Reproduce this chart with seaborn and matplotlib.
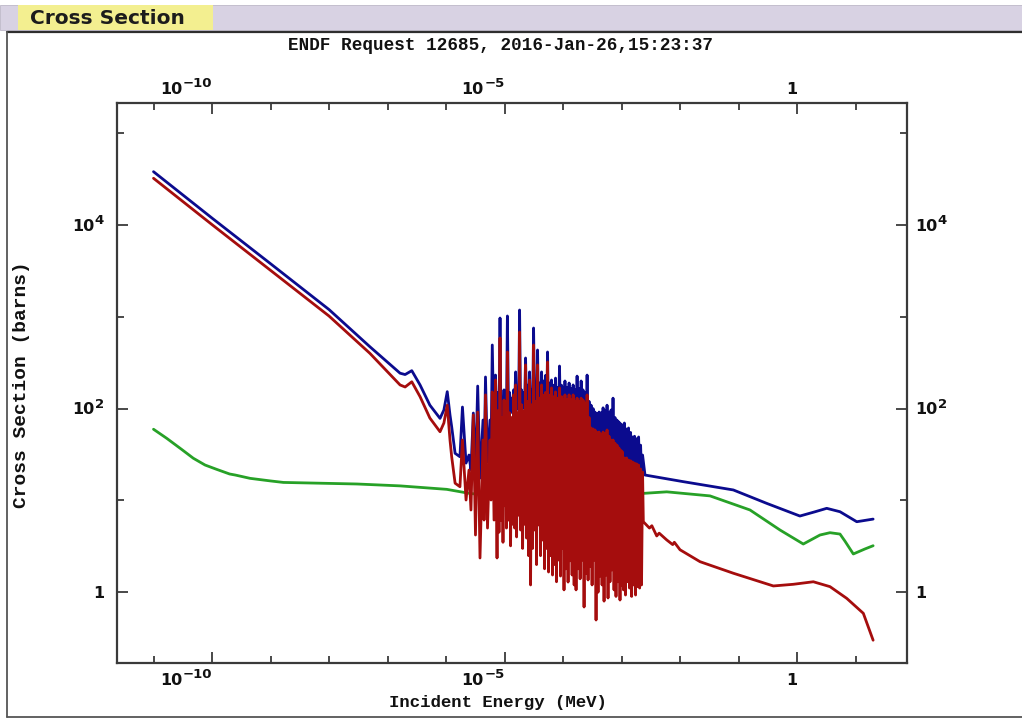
import matplotlib
matplotlib.use("Agg")
import matplotlib.pyplot as plt
import seaborn as sns
from matplotlib.patches import Rectangle
from matplotlib.lines import Line2D
from matplotlib.ticker import FixedLocator, NullFormatter
from matplotlib.transforms import offset_copy

# ---------------------------------------------------------------- data (MeV, barns)
# total and capture cross sections below the resolved resonance region
total_E_lo = [1e-11, 1e-10, 1e-9, 1e-8, 5.0e-8, 1.64e-7, 2.0e-7, 2.6e-7, 3.6e-7,
              5.3e-7, 7.9e-7, 9.2e-7, 1.05e-6, 1.17e-6, 1.25e-6, 1.43e-6, 1.73e-6]
total_lo = [3.81e4, 1.19e4, 3.79e3, 1.20e3, 472, 243, 235, 259, 181,
            109, 78.3, 96.6, 153, 85.2, 63.5, 32.6, 29.9]
capture_lo = [3.23e4, 1.01e4, 3.21e3, 1.02e3, 400, 181, 172, 196, 135,
              78.9, 56.0, 69.7, 109, 45.5, 29.9, 15.4, 14.1]

# resolved resonance region (alternating peaks and valleys)
forest_E = [
    1.91e-6, 2.20e-6, 2.47e-6, 2.67e-6, 2.93e-6, 3.19e-6, 3.48e-6, 3.81e-6, 4.29e-6, 4.47e-6,
    4.73e-6, 5.12e-6, 5.65e-6, 5.88e-6, 6.18e-6, 6.62e-6, 7.02e-6,
    7.45e-6, 7.74e-6, 8.05e-6, 8.38e-6, 8.71e-6, 9.06e-6, 9.42e-6, 9.80e-6,
    1.00e-5, 1.04e-5, 1.08e-5, 1.12e-5, 1.17e-5, 1.22e-5, 1.27e-5, 1.32e-5, 1.37e-5, 1.43e-5,
    1.49e-5, 1.55e-5, 1.61e-5, 1.67e-5, 1.74e-5, 1.81e-5, 1.88e-5, 1.96e-5, 2.04e-5, 2.12e-5,
    2.20e-5, 2.29e-5, 2.38e-5, 2.48e-5, 2.58e-5, 2.68e-5, 2.79e-5, 2.90e-5, 3.02e-5, 3.14e-5,
    3.27e-5, 3.40e-5, 3.53e-5, 3.67e-5, 3.82e-5, 3.97e-5, 4.13e-5, 4.30e-5, 4.47e-5, 4.65e-5,
    4.84e-5, 5.03e-5, 5.23e-5, 5.44e-5, 5.66e-5, 5.88e-5, 6.12e-5, 6.36e-5, 6.62e-5, 6.88e-5,
    7.16e-5, 7.45e-5, 7.74e-5, 8.05e-5, 8.38e-5, 8.71e-5, 9.06e-5, 9.42e-5, 9.80e-5,
    1.00e-4, 1.04e-4, 1.08e-4, 1.12e-4, 1.17e-4, 1.22e-4, 1.27e-4, 1.32e-4, 1.37e-4, 1.43e-4,
    1.49e-4, 1.55e-4, 1.61e-4, 1.67e-4, 1.74e-4, 1.81e-4, 1.88e-4, 1.96e-4, 2.04e-4, 2.12e-4,
    2.20e-4, 2.29e-4, 2.38e-4, 2.48e-4, 2.58e-4, 2.68e-4, 2.79e-4, 2.90e-4, 3.02e-4, 3.14e-4,
    3.27e-4, 3.40e-4, 3.53e-4, 3.67e-4, 3.82e-4, 3.97e-4, 4.13e-4, 4.30e-4, 4.47e-4, 4.65e-4,
    4.84e-4, 5.03e-4, 5.23e-4, 5.44e-4, 5.66e-4, 5.88e-4, 6.12e-4, 6.36e-4, 6.62e-4, 6.88e-4,
    7.16e-4, 7.45e-4, 7.74e-4, 8.05e-4, 8.38e-4, 8.71e-4, 9.06e-4, 9.42e-4, 9.80e-4,
    1.00e-3, 1.04e-3, 1.08e-3, 1.12e-3, 1.17e-3, 1.22e-3, 1.27e-3, 1.32e-3, 1.37e-3, 1.43e-3,
    1.49e-3, 1.55e-3, 1.61e-3, 1.67e-3, 1.74e-3, 1.81e-3, 1.88e-3, 1.96e-3, 2.04e-3, 2.12e-3,
    2.20e-3, 2.29e-3]
forest_total = [
    104, 25.5, 31.2, 21.4, 89.5, 18.9, 176, 17.5, 75.1, 18.9,
    221, 26.2, 75.1, 31.2, 493, 45.5, 232,
    58.5, 150, 70, 970, 66, 130, 70, 160,
    81, 140, 85, 1021, 96.6, 150, 90, 130, 95, 160,
    109, 251, 100, 140, 96.6, 1186, 96.6, 160, 100, 150,
    105, 356, 109, 180, 100, 251, 96.6, 160, 96.6, 755,
    96.6, 170, 96.6, 435, 90, 190, 85, 251, 100, 200,
    109, 230, 90, 414, 75, 190, 75, 205, 75, 180,
    75, 215, 75, 170, 75, 291, 75, 180, 70,
    170, 66, 200, 66, 170, 66, 190, 66, 165, 66,
    181, 62, 160, 60, 226, 58.5, 165, 58.5, 200, 58.5,
    160, 55, 150, 52, 232, 50, 120, 45, 109, 42,
    100, 40, 91.8, 37, 88, 36, 91.8, 35.4, 90, 35,
    102, 35, 95, 34, 109, 32, 90, 31, 96.6, 31,
    130, 29, 80, 28, 75, 27, 71.5, 25, 68,
    24.3, 66.3, 24.3, 69.7, 23, 60, 22, 61.5, 21.4, 55,
    21, 49.1, 20.4, 50, 20.4, 47, 19.5, 49.1, 18.9, 40,
    18.9, 31.2]
forest_capture = [
    45.5, 10.1, 21.4, 7.86, 85.2, 4.20, 91.8, 2.36, 45.5, 6.11,
    141, 5.00, 45.5, 10.1, 152, 6.11, 205,
    2.36, 95, 4.5, 588, 6.1, 80, 3.5, 124,
    8.9, 85, 5.0, 414, 6.1, 90, 3.2, 80, 5.5, 141,
    5.0, 181, 4.0, 90, 6.9, 683, 4.76, 110, 3.0, 95,
    5.5, 299, 3.89, 120, 2.5, 205, 1.2, 110, 3.0, 493,
    4.76, 120, 2.0, 299, 5.4, 130, 2.5, 181, 3.7, 140,
    1.8, 150, 3.0, 322, 1.66, 140, 2.5, 168, 1.54, 135,
    2.0, 152, 1.3, 130, 2.24, 168, 1.5, 135, 3.03,
    125, 1.06, 141, 1.8, 125, 1.29, 141, 2.2, 125, 1.54,
    141, 1.2, 120, 1.06, 130, 1.8, 120, 1.4, 130, 2.24,
    124, 0.69, 115, 1.6, 141, 1.36, 80, 1.9, 61.5, 1.2,
    60, 2.24, 58.5, 0.498, 55, 1.0, 55.6, 1.5, 52, 1.2,
    55.6, 0.8, 54, 1.54, 58.5, 0.865, 50, 1.3, 45.5, 1.75,
    45.5, 1.06, 42, 0.9, 40, 1.3, 37.2, 0.822, 35,
    1.2, 33.7, 1.06, 29.0, 0.932, 29, 1.3, 27.5, 1.11, 27,
    0.9, 26.2, 1.2, 25.5, 0.932, 25, 1.15, 24.3, 1.11, 22,
    1.2, 20.4]

# unresolved / fast region
total_E_hi = [2.52e-3, 1.14e-2, 8.15e-2, 0.303, 1.12, 2.0, 3.22, 5.43, 10.5, 20.0]
total_hi = [18.9, 16.0, 13.0, 9.29, 6.76, 7.5, 8.20, 7.53, 5.86, 6.26]

capture_E_hi = [2.36e-3, 3.0e-3, 3.3e-3, 4.0e-3, 4.4e-3, 5.93e-3, 7.5e-3, 8.0e-3, 1.0e-2,
                2.2e-2, 8.15e-2, 0.394, 0.865, 1.90, 3.66, 7.08, 13.6, 20.0]
capture_hi = [5.86, 5.0, 5.3, 4.1, 4.4, 3.71, 3.3, 3.5, 2.9,
              2.15, 1.61, 1.17, 1.22, 1.30, 1.15, 0.857, 0.589, 0.30]

# elastic scattering
elastic_E = [1e-11, 1.68e-11, 3e-11, 4.79e-11, 7.6e-11, 1.2e-10, 2.0e-10, 2.5e-10, 4.46e-10,
             1.0e-9, 1.66e-9, 2.98e-8,
             1.64e-7, 1.03e-6, 2.57e-6, 5.0e-6, 9.6e-6, 1.04e-5, 1.12e-5, 1.22e-5, 1.55e-5,
             1.8e-5, 2.0e-5, 3.0e-5, 1e-4, 1e-3, 2.21e-3, 5.93e-3, 3.26e-2, 0.157, 0.512,
             1.28, 2.47, 3.66, 5.43, 6.6, 9.17, 14.5, 20.0]
elastic = [59.6, 47.5, 36.1, 28.8, 24.3, 21.8, 19.4, 18.9, 17.4,
           16.3, 15.7, 15.1,
           14.4, 13.2, 11.9, 11.5, 10.5, 9.0, 7.5, 10.0, 11.0,
           8.3, 10.5, 11.5, 12.0, 12.2, 11.9, 12.4, 11.2, 7.87, 4.76,
           3.35, 4.20, 4.45, 4.30, 3.6, 2.61, 2.96, 3.21]

x_major = [1e-10, 1e-5, 1.0]
x_major_labels = [("10", "\u221210"), ("10", "\u22125"), ("1", "")]
x_minor = [1e-11, 1e-9, 1e-8, 1e-7, 1e-6, 1e-4, 1e-3, 1e-2, 1e-1, 10.0]
y_major = [1.0, 1e2, 1e4]
y_major_labels = [("1", ""), ("10", "2"), ("10", "4")]
y_minor = [10.0, 1e3, 1e5]

title_text = "ENDF Request 12685, 2016-Jan-26,15:23:37"
panel_text = "Cross Section"

# ---------------------------------------------------------------- style
sns.set_style("white")
plt.rcParams["font.family"] = ["Liberation Mono", "DejaVu Sans"]

BLUE = "#0b0b8e"
RED = "#a50d0d"
GREEN = "#27a127"
AXC = "#3a3a3a"
TXT = "#111111"

W, H = 1022, 718
DPI = 100
fig = plt.figure(figsize=(W / DPI, H / DPI), dpi=DPI, facecolor="white")
renderer = fig.canvas.get_renderer()

# header strip with tab
fig.patches.append(Rectangle((0, 1 - 30 / H), 1, 25 / H, transform=fig.transFigure,
                             facecolor="#d8d2e3", edgecolor="#bdb8c8", lw=0.6, zorder=0))
fig.patches.append(Rectangle((18 / W, 1 - 30 / H), 195 / W, 25 / H, transform=fig.transFigure,
                             facecolor="#f3ef90", edgecolor="none", zorder=1))
fig.text(30 / W, 1 - 18 / H, panel_text, family="DejaVu Sans", weight="bold",
         size=14.5, color="#1c1c1c", ha="left", va="center")
# panel frame
fig.lines.append(Line2D([7 / W, 1], [1 - 31.5 / H] * 2, transform=fig.transFigure,
                        color="#2e2e2e", lw=1.6))
fig.lines.append(Line2D([7 / W, 7 / W], [1 - 31.5 / H, 1 - 716.5 / H], transform=fig.transFigure,
                        color="#555555", lw=1.3))
fig.lines.append(Line2D([7 / W, 1], [1 - 716.5 / H] * 2, transform=fig.transFigure,
                        color="#555555", lw=1.3))

fig.text(500 / W, 1 - 45 / H, title_text, family="Liberation Mono", weight="bold",
         size=12.7, color=TXT, ha="center", va="center")

# plot area
ax_l, ax_r, ax_t, ax_b = 117, 907, 103, 663
ax = fig.add_axes([ax_l / W, 1 - ax_b / H, (ax_r - ax_l) / W, (ax_b - ax_t) / H])
ax.set_facecolor("white")

total_E = total_E_lo + forest_E + total_E_hi
total = total_lo + forest_total + total_hi
capture_E = total_E_lo + forest_E + capture_E_hi
capture = capture_lo + forest_capture + capture_hi

lw = 2.0
sns.lineplot(x=elastic_E, y=elastic, ax=ax, color=GREEN, linewidth=lw,
             sort=False, estimator=None, zorder=2)
sns.lineplot(x=total_E, y=total, ax=ax, color=BLUE, linewidth=lw,
             sort=False, estimator=None, zorder=3)
sns.lineplot(x=capture_E, y=capture, ax=ax, color=RED, linewidth=lw,
             sort=False, estimator=None, zorder=4)

ax.set_xscale("log")
ax.set_yscale("log")
ax.set_xlim(10 ** -11.624, 10 ** 1.880)
ax.set_ylim(10 ** -0.771, 10 ** 5.329)

for s in ax.spines.values():
    s.set_color(AXC)
    s.set_linewidth(1.6)
    s.set_visible(True)

ax.xaxis.set_major_locator(FixedLocator(x_major))
ax.xaxis.set_minor_locator(FixedLocator(x_minor))
ax.yaxis.set_major_locator(FixedLocator(y_major))
ax.yaxis.set_minor_locator(FixedLocator(y_minor))
for axis in (ax.xaxis, ax.yaxis):
    axis.set_major_formatter(NullFormatter())
    axis.set_minor_formatter(NullFormatter())
ax.tick_params(which="both", direction="in", top=True, right=True, bottom=True, left=True,
               color=AXC, width=1.3)
ax.tick_params(which="major", length=8)
ax.tick_params(which="minor", length=5)

# ---------------------------------------------------------------- power-of-ten labels
base_kw = dict(family="DejaVu Sans", weight="bold", size=11.5, color=TXT)
sup_kw = dict(family="DejaVu Sans", weight="bold", size=9.5, color=TXT)
SUP_RAISE = 4.8   # points
GAP = 0.3         # points


def power_label(x, y, transform, base, sup, ha, dy=0.0):
    """Draw base with a raised exponent; baseline at (x, y) shifted by dy points."""
    if ha == "right":
        if sup:
            s = ax.text(x, y, sup, ha="right", va="baseline",
                        transform=offset_copy(transform, fig, 0, dy + SUP_RAISE, units="points"),
                        **sup_kw)
            w = s.get_window_extent(renderer).width * 72 / DPI
        else:
            w = -GAP
        ax.text(x, y, base, ha="right", va="baseline",
                transform=offset_copy(transform, fig, -w - GAP, dy, units="points"), **base_kw)
    else:
        b = ax.text(x, y, base, ha="left", va="baseline",
                    transform=offset_copy(transform, fig, 0, dy, units="points"), **base_kw)
        if sup:
            w = b.get_window_extent(renderer).width * 72 / DPI
            ax.text(x, y, sup, ha="left", va="baseline",
                    transform=offset_copy(transform, fig, w + GAP, dy + SUP_RAISE, units="points"),
                    **sup_kw)


xt = ax.get_xaxis_transform()
yt = ax.get_yaxis_transform()
h_ax = ax_b - ax_t
w_ax = ax_r - ax_l
for v, (b, s) in zip(x_major, x_major_labels):
    power_label(v, (ax_b - 685) / h_ax, xt, b, s, "right")
    power_label(v, (ax_b - 94) / h_ax, xt, b, s, "right")
for v, (b, s) in zip(y_major, y_major_labels):
    power_label((104 - ax_l) / w_ax, v, yt, b, s, "right", dy=-4.2)
    power_label((915 - ax_l) / w_ax, v, yt, b, s, "left", dy=-4.2)

ax.set_xlabel("Incident Energy (MeV)", family="Liberation Mono", weight="bold",
              size=12.5, color=TXT)
ax.xaxis.set_label_coords((498 - ax_l) / w_ax, (ax_b - 702) / h_ax)
ax.xaxis.label.set_va("center")
ax.set_ylabel("Cross Section (barns)", family="Liberation Mono", weight="bold",
              size=14, color=TXT)
ax.yaxis.set_label_coords((22 - ax_l) / w_ax, (ax_b - 385) / h_ax)
ax.yaxis.label.set_va("center")

fig.savefig("out.png", dpi=DPI, facecolor="white")
